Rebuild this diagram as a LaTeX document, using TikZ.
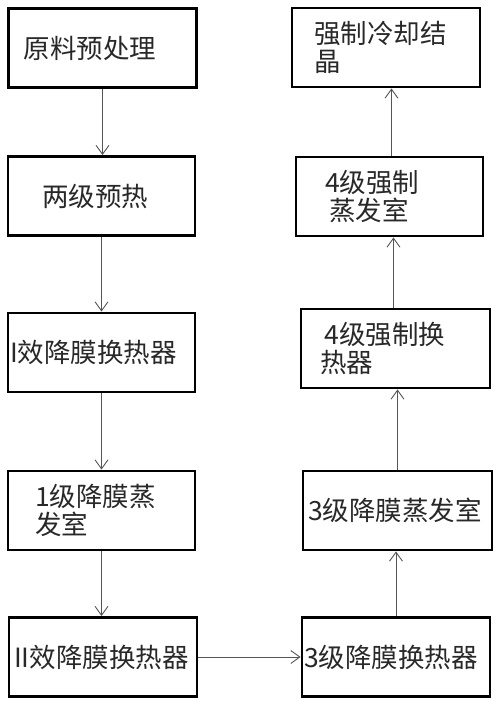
\documentclass[tikz,border=0pt]{standalone}
\usepackage{fontspec}
\newfontfamily\cjk{Noto Sans CJK SC}
\usepackage{tikz}
\usetikzlibrary{arrows.meta,positioning,calc}
\definecolor{flowgray}{RGB}{85,85,85}
\definecolor{textgray}{RGB}{40,40,40}

\begin{document}
\begin{tikzpicture}[x=1pt, y=-1pt, >={Straight Barb[length=9pt,width=13pt]},
  box/.style={draw=black, line width=2.9pt, minimum height=79pt, align=left,
    text=textgray, font=\cjk\fontsize{26.5}{28}\selectfont},
  flow/.style={->, draw=flowgray, line width=0.9pt}]

\useasboundingbox (0,0) rectangle (500,705);

% ==========================================
% Left Column (top to bottom)
% ==========================================
\node[box, inner xsep=15pt, text width=158pt] (pre)   at (102.5, 48)  {原料预处理};
\node[box, inner xsep=34pt, text width=119pt] (heat)  at (101.5, 196) {两级预热};
\node[box, inner xsep=2pt,  text width=183pt] (hxI)   at (101.5, 352.5) {I效降膜换热器};
\node[box, inner xsep=27pt, text width=133pt] (evI)   at (101.5, 510.5) {1级降膜蒸\\发室};
\node[box, inner xsep=5pt,  text width=178pt] (hxII)  at (103, 657)   {II效降膜换热器};

% ==========================================
% Right Column (bottom to top)
% ==========================================
\node[box, inner xsep=2pt,  text width=184pt] (hxIII) at (396, 657)   {3级降膜换热器};
\node[box, inner xsep=5pt,  text width=179pt] (evIII) at (397.5, 510.5) {3级降膜蒸发室};
\node[box, inner xsep=19pt, text width=151pt] (hxIV)  at (395.5, 348.5) {\,4级强制换\\热器};
\node[box, inner xsep=29pt, text width=129pt] (evIV)  at (389.5, 196.5) {4级强制\\\,蒸发室};
\node[box, inner xsep=22pt, text width=144pt] (cryst) at (386, 47.5)  {强制冷却结\\晶};

% ==========================================
% Flow Arrows
% ==========================================
\draw[flow] (pre.south)   -- (pre.south |- heat.north);
\draw[flow] (heat.south)  -- (heat.south |- hxI.north);
\draw[flow] (hxI.south)   -- (hxI.south |- evI.north);
\draw[flow] (evI.south)   -- (evI.south |- hxII.north);
\draw[flow] (hxII.east)   -- (hxII.east -| hxIII.west);
\draw[flow] (hxIII.north) -- (hxIII.north |- evIII.south);
\draw[flow] (evIII.north) -- (evIII.north |- hxIV.south);
\draw[flow] ($(hxIV.north)+(-2,0)$) -- ($(hxIV.north |- evIV.south)+(-2,0)$);
\draw[flow] ($(evIV.north)+(2,0)$)  -- ($(evIV.north |- cryst.south)+(2,0)$);

\end{tikzpicture}
\end{document}
